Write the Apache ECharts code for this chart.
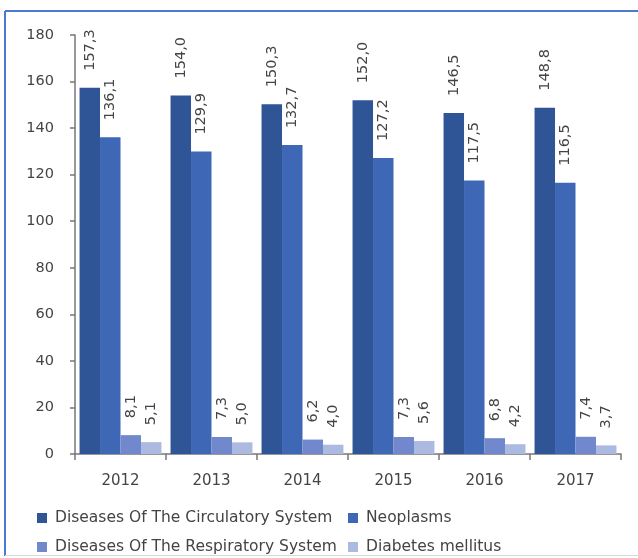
<!DOCTYPE html>
<html><head><meta charset="utf-8">
<script src="https://cdn.jsdelivr.net/npm/echarts@6/dist/echarts.min.js"></script>
<style>html,body{margin:0;padding:0;background:#fff}#c{width:638px;height:558px}</style>
</head><body><div id="c"></div>
<script>
var years = ['2012','2013','2014','2015','2016','2017'];
var seriesNames = ['Diseases Of The Circulatory System','Neoplasms','Diseases Of The Respiratory System','Diabetes mellitus'];
var circulatory = [157.3, 154.0, 150.3, 152.0, 146.5, 148.8];
var neoplasms = [136.1, 129.9, 132.7, 127.2, 117.5, 116.5];
var respiratory = [8.1, 7.3, 6.2, 7.3, 6.8, 7.4];
var diabetes = [5.1, 5.0, 4.0, 5.6, 4.2, 3.7];
var yTicks = [0, 20, 40, 60, 80, 100, 120, 140, 160, 180];

var colors = ['#2f5597', '#3e67b6', '#7189cc', '#acbae2'];
var values = [circulatory, neoplasms, respiratory, diabetes];
var font = 'DejaVu Sans';
var txt = '#444';

var chart = echarts.init(document.getElementById('c'));
var series = values.map(function (v, i) {
  return {
    name: seriesNames[i], type: 'bar', data: v,
    barGap: '0%', barCategoryGap: '10%',
    itemStyle: { color: colors[i] },
    label: {
      show: true, position: 'top', rotate: 90, distance: 17,
      align: 'left', verticalAlign: 'middle',
      fontFamily: font, fontSize: 14.5, color: txt,
      formatter: function (p) { return p.value.toFixed(1).replace('.', ','); }
    }
  };
});
var legendPos = [[37, 510], [348, 510], [37, 539], [348, 539]];
var legends = seriesNames.map(function (n, i) {
  return {
    data: [n], left: legendPos[i][0], top: legendPos[i][1], padding: 0,
    icon: 'rect', itemWidth: 10, itemHeight: 10, itemGap: 4,
    textStyle: { fontFamily: font, fontSize: 15.5, lineHeight: 16, color: txt, padding: [0, 0, 0, 3] },
    selectedMode: false
  };
});
chart.setOption({
  animation: false,
  color: colors,
  graphic: [
    { type: 'line', shape: { x1: 5, y1: 11, x2: 640, y2: 11 }, style: { stroke: '#4a7bd0', lineWidth: 2 } },
    { type: 'line', shape: { x1: 5, y1: 11, x2: 5, y2: 556 }, style: { stroke: '#4a7bd0', lineWidth: 2 } },
    { type: 'line', shape: { x1: 5, y1: 555.5, x2: 640, y2: 555.5 }, style: { stroke: '#d8d8d8', lineWidth: 1 } }
  ],
  legend: legends,
  grid: { left: 75, right: 17, top: 35, bottom: 104 },
  xAxis: {
    type: 'category', data: years,
    axisLine: { lineStyle: { color: '#777', width: 1.5 } },
    axisTick: { show: true, length: 6, lineStyle: { color: '#777', width: 1.5 } },
    axisLabel: { fontFamily: font, fontSize: 15, color: txt, margin: 20 }
  },
  yAxis: {
    type: 'value', min: yTicks[0], max: yTicks[yTicks.length - 1], interval: 20,
    splitLine: { show: false },
    axisLine: { show: true, lineStyle: { color: '#777', width: 1.5 } },
    axisTick: { show: true, length: 5, lineStyle: { color: '#777', width: 1.5 } },
    axisLabel: { fontFamily: font, fontSize: 14.5, color: txt, margin: 21 }
  },
  series: series
});
</script></body></html>
